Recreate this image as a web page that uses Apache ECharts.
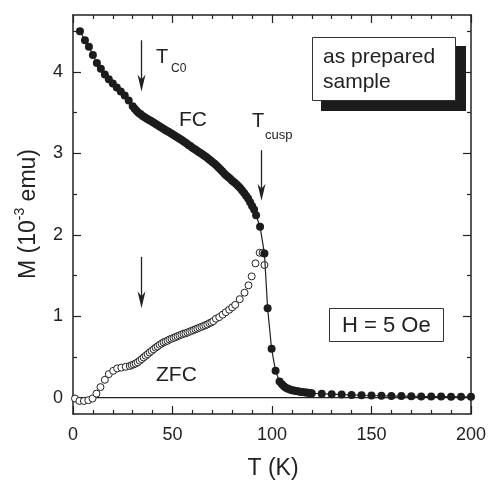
<!DOCTYPE html>
<html>
<head>
<meta charset="utf-8">
<script src="https://cdn.jsdelivr.net/npm/echarts@6/dist/echarts.min.js"></script>
<style>
  html, body { margin: 0; padding: 0; background: #fff; }
  #chart { width: 489px; height: 482px; }
</style>
</head>
<body>
<div id="chart"></div>
<script>
// Field-cooled magnetisation, M (10^-3 emu) versus T (K)
const fcT = [3.5, 6, 8, 10, 12, 14, 16, 18, 20, 22, 24, 26, 28, 30, 31, 32, 33, 34, 35, 36, 37, 38, 39, 40,
  41, 42, 43, 44, 45, 46, 47, 48, 49, 50, 51, 52, 53, 54, 55, 56, 57, 58, 59, 60,
  61, 62, 63, 64, 65, 66, 67, 68, 69, 70, 71, 72, 73, 74, 75, 76, 77, 78, 79, 80,
  81, 82, 83, 84, 85, 86, 87, 88, 89, 90, 91, 92, 94, 96.2, 97.8, 99.8, 101.8, 103.8,
  105, 106, 107, 108, 109, 110, 111, 112, 113, 114, 115, 116, 117, 118, 119, 120,
  125, 130, 135, 140, 145, 150, 155, 160, 165, 170, 175, 180, 185, 190, 195, 200];
const fcM = [4.50, 4.39, 4.31, 4.21, 4.11, 4.04, 3.97, 3.91, 3.86, 3.81, 3.76, 3.71, 3.65, 3.58, 3.55, 3.52, 3.495, 3.48, 3.46, 3.445, 3.43, 3.415, 3.40, 3.385,
  3.37, 3.355, 3.34, 3.325, 3.31, 3.295, 3.28, 3.265, 3.25, 3.235, 3.22, 3.205, 3.19, 3.175, 3.16, 3.14, 3.125, 3.105, 3.09, 3.07,
  3.055, 3.04, 3.02, 3.005, 2.99, 2.97, 2.955, 2.935, 2.915, 2.895, 2.875, 2.855, 2.83, 2.805, 2.78, 2.755, 2.73, 2.71, 2.69, 2.665,
  2.645, 2.625, 2.60, 2.575, 2.545, 2.515, 2.48, 2.445, 2.40, 2.355, 2.31, 2.24, 2.10, 1.77, 1.10, 0.60, 0.33, 0.20,
  0.165, 0.14, 0.122, 0.11, 0.10, 0.093, 0.088, 0.083, 0.078, 0.074, 0.07, 0.067, 0.064, 0.061, 0.058, 0.055,
  0.049, 0.043, 0.038, 0.034, 0.030, 0.027, 0.024, 0.022, 0.020, 0.018, 0.016, 0.015, 0.014, 0.013, 0.012, 0.012];

// Zero-field-cooled magnetisation
const zfcT = [1, 3.2, 5.5, 7.7, 9.8, 11.8, 13.8, 16, 18, 20.2, 22.2, 24.3, 26.5, 28.5, 29.5, 30.5, 31.5,
  32.5, 33.5, 34.5, 35.5, 36.5, 37.5, 38.5, 39.5, 40.5, 41.5, 42.5, 43.5, 44.5, 45.5, 46.5, 47.5, 48.5, 49.5,
  50.5, 51.5, 52.5, 53.5, 54.5, 55.5, 56.5, 57.5, 58.5, 59.5, 60.5, 61.5, 62.5, 63.5, 64.5, 65.5, 66.5, 67.5,
  68.5, 69.5, 70.5, 71.8, 73.5, 75.2, 76.8, 78.5, 80, 81.5, 83.8, 86.2, 88.2, 89.8, 91.7, 93.8, 95.3, 96.2];
const zfcM = [-0.01, -0.04, -0.04, -0.03, -0.01, 0.05, 0.13, 0.22, 0.29, 0.33, 0.36, 0.37, 0.38, 0.39, 0.40, 0.41, 0.42,
  0.435, 0.455, 0.475, 0.495, 0.515, 0.535, 0.555, 0.575, 0.595, 0.615, 0.63, 0.65, 0.665, 0.68, 0.69, 0.70, 0.715, 0.725,
  0.735, 0.745, 0.755, 0.765, 0.775, 0.785, 0.79, 0.80, 0.81, 0.82, 0.83, 0.84, 0.85, 0.86, 0.87, 0.88, 0.89, 0.90,
  0.915, 0.925, 0.94, 0.97, 0.99, 1.02, 1.05, 1.08, 1.11, 1.14, 1.21, 1.29, 1.38, 1.49, 1.65, 1.78, 1.78, 1.63];

// Reference line M = 0
const zeroT = [0, 200];
const zeroM = [0, 0];

// Axis ticks
const xMajorTicks = [0, 50, 100, 150, 200];
const yMajorTicks = [0, 1, 2, 3, 4];
const yMinorTicks = [0.5, 1.5, 2.5, 3.5, 4.5];

const INK = '#222';
const FONT = '"Liberation Sans", Arial, Helvetica, sans-serif';

const pairs = (xs, ys) => xs.map((x, i) => [x, ys[i]]);

const chart = echarts.init(document.getElementById('chart'), null, { renderer: 'canvas' });

const xBase = {
  type: 'value', min: xMajorTicks[0], max: xMajorTicks[xMajorTicks.length - 1], interval: 50,
  axisLine: { show: true, onZero: false, lineStyle: { color: INK, width: 1.5 } },
  axisTick: { show: true, inside: true, length: 8, lineStyle: { color: INK, width: 1.2 } },
  minorTick: { show: true, splitNumber: 5, length: 4, lineStyle: { color: INK, width: 1.2 } },
  splitLine: { show: false }, minorSplitLine: { show: false }
};

const yBase = (pos, ticks, len, showLine, showLabel) => ({
  type: 'value', min: -0.2, max: 4.7, position: pos,
  axisLine: { show: showLine, onZero: false, lineStyle: { color: INK, width: 1.5 } },
  axisTick: { show: true, inside: true, length: len, customValues: ticks, lineStyle: { color: INK, width: 1.2 } },
  axisLabel: showLabel
    ? { show: true, customValues: ticks, fontSize: 18, fontFamily: FONT, color: INK, margin: 10 }
    : { show: false },
  splitLine: { show: false }
});

chart.setOption({
  animation: false,
  backgroundColor: '#fff',
  grid: { left: 73, right: 16, top: 15, bottom: 68, containLabel: false },
  xAxis: [
    Object.assign({}, xBase, { position: 'bottom',
      axisLabel: { show: true, fontSize: 18, fontFamily: FONT, color: INK, margin: 12 } }),
    Object.assign({}, xBase, { position: 'top', axisLabel: { show: false } })
  ],
  yAxis: [
    yBase('left', yMajorTicks, 8, true, true),
    yBase('left', yMinorTicks, 4, false, false),
    yBase('right', yMajorTicks, 8, true, false),
    yBase('right', yMinorTicks, 4, false, false)
  ],
  series: [
    {
      type: 'line', data: pairs(zeroT, zeroM), symbol: 'none', z: 1,
      lineStyle: { color: INK, width: 1.2 }, silent: true
    },
    {
      name: 'ZFC', type: 'scatter', data: pairs(zfcT, zfcM), symbol: 'circle', symbolSize: 7, z: 2,
      itemStyle: { color: '#fff', borderColor: INK, borderWidth: 1, opacity: 1 }
    },
    {
      name: 'FC', type: 'line', data: pairs(fcT, fcM), symbol: 'circle', symbolSize: 8,
      showAllSymbol: true, z: 3,
      lineStyle: { color: INK, width: 1.2 },
      itemStyle: { color: '#1c1c1c', borderWidth: 0 }
    }
  ]
});

// ---- annotations ----
const P = (t, m) => chart.convertToPixel({ xAxisIndex: 0, yAxisIndex: 0 }, [t, m]);

function arrow(t, mTop, mTip) {
  const a = P(t, mTop), b = P(t, mTip);
  const x = Math.round(a[0]) + 0.5;
  const tipY = b[1];
  return {
    type: 'group', silent: true, children: [
      { type: 'line', shape: { x1: x, y1: a[1], x2: x, y2: tipY - 10 }, style: { stroke: INK, lineWidth: 1.3 } },
      { type: 'polygon', shape: { points: [[x, tipY], [x - 4, tipY - 17], [x, tipY - 12], [x + 4, tipY - 17]] },
        style: { fill: INK } }
    ]
  };
}

function label(text, x, y, size, align) {
  return {
    type: 'text', x: x, y: y, silent: true,
    style: { text: text, fontSize: size, fontFamily: FONT, fill: INK,
      align: align || 'left', verticalAlign: 'middle', textAlign: align || 'left', textVerticalAlign: 'middle' }
  };
}

const graphics = [
  arrow(34.3, 4.39, 3.76),
  arrow(94.7, 3.04, 2.42),
  arrow(34.3, 1.73, 1.10),
  label('T', 156, 57, 20),
  label('C0', 171, 69, 12),
  label('T', 252, 121, 20),
  label('cusp', 265, 135, 13),
  label('FC', 179, 120.5, 21),
  label('ZFC', 156, 375.5, 21),
  // "as prepared sample" box with drop shadow
  { type: 'rect', shape: { x: 321, y: 46, width: 145, height: 65 }, style: { fill: '#1c1c1c' }, silent: true },
  { type: 'rect', shape: { x: 312.5, y: 37.5, width: 143, height: 63 }, style: { fill: '#fff', stroke: '#333', lineWidth: 1 }, silent: true },
  label('as prepared', 323, 57.5, 21),
  label('sample', 323, 82.5, 21),
  // field box
  { type: 'rect', shape: { x: 329.5, y: 308.5, width: 114, height: 33 }, style: { fill: '#fff', stroke: '#333', lineWidth: 1 }, silent: true },
  label('H = 5 Oe', 342, 325.5, 22),
  // axis titles
  label('T (K)', 273, 469, 23, 'center'),
  {
    type: 'text', x: 27, y: 214, rotation: Math.PI / 2, silent: true,
    style: {
      text: '{a|M (10}{b|-3}{a| emu)}', fontFamily: FONT, fill: INK,
      align: 'center', verticalAlign: 'middle', textAlign: 'center', textVerticalAlign: 'middle',
      rich: {
        a: { fontSize: 23, lineHeight: 27, verticalAlign: 'bottom', fontFamily: FONT, color: INK },
        b: { fontSize: 14, lineHeight: 14, verticalAlign: 'top', fontFamily: FONT, color: INK }
      }
    }
  }
];

chart.setOption({ graphic: { elements: graphics } });
</script>
</body>
</html>
